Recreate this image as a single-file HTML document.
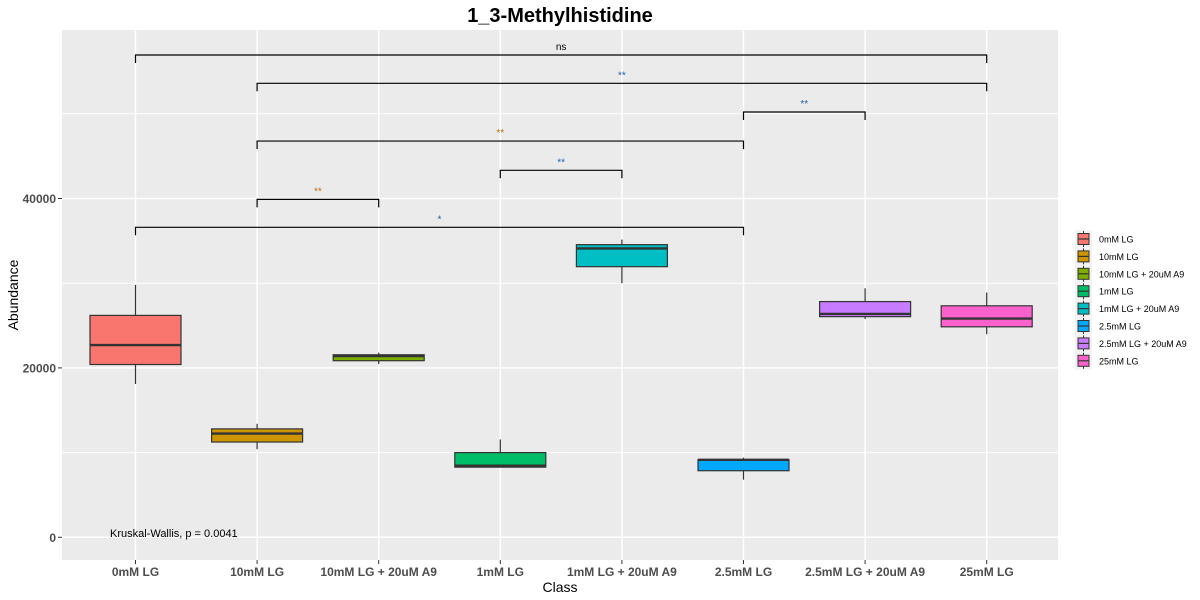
<!DOCTYPE html>
<html><head><meta charset="utf-8"><style>
body{margin:0;background:#fff;}
svg{display:block;font-family:"Liberation Sans",Arial,sans-serif;}
</style></head><body>
<svg id="chart" width="1200" height="600"></svg>
<script>
const categories=["0mM LG","10mM LG","10mM LG + 20uM A9","1mM LG","1mM LG + 20uM A9","2.5mM LG","2.5mM LG + 20uM A9","25mM LG"];
const colors=["#F8766D","#CD9600","#7CAE00","#00BE67","#00BFC4","#00A9FF","#C77CFF","#FF61CC"];
const whiskerLow=[18100,10400,20450,8280,30000,6800,25770,23980];
const q1=[20400,11250,20850,8280,31950,7860,26050,24850];
const median=[22700,12250,21400,8450,34100,9150,26370,25830];
const q3=[26200,12800,21550,10000,34550,9150,27830,27330];
const whiskerHigh=[29800,13400,21800,11550,35150,9400,29400,28900];
const yTicks=[0,20000,40000];
const gridMinor=[10000,30000,50000];
const brFrom=[0,1,6,1,3,1,0];
const brTo=[7,7,5,5,4,2,5];
const brY=[56940,53600,50210,46780,43330,39900,36600];
const brLabel=["ns","**","**","**","**","**","*"];
const brColor=["#000","#1f5fa8","#1f5fa8","#b8700f","#1f5fa8","#b8700f","#1f5fa8"];

const NS="http://www.w3.org/2000/svg";
const svg=document.getElementById('chart');
const L=62,R=1058,T=30,B=560;
const x=i=>135.5+i*121.6;
const y=v=>537.3-v*0.008470;
function mk(tag,attrs,parent){const e=document.createElementNS(NS,tag);for(const k in attrs)e.setAttribute(k,attrs[k]);(parent||svg).appendChild(e);return e;}

const title=mk('text',{x:560,y:22,'text-anchor':'middle','font-size':20,'font-weight':'bold',fill:'#000'});
title.textContent="1_3-Methylhistidine";



const panel=mk('rect',{x:L,y:T,width:R-L,height:B-T,fill:'#EBEBEB'});



gridMinor.forEach(v=>{const g=mk('line',{x1:L,x2:R,y1:y(v),y2:y(v),stroke:'#fff','stroke-width':1});

});
yTicks.forEach(v=>{const g=mk('line',{x1:L,x2:R,y1:y(v),y2:y(v),stroke:'#fff','stroke-width':1.5});


const tk=mk('line',{x1:L-4,x2:L,y1:y(v),y2:y(v),stroke:'#333'});


const t=mk('text',{x:L-6,y:y(v)+4.5,'text-anchor':'end','font-size':12,'font-weight':'bold',fill:'#4D4D4D'});
t.textContent=v;

});
categories.forEach((c,i)=>{const g=mk('line',{x1:x(i),x2:x(i),y1:T,y2:B,stroke:'#fff','stroke-width':1.5});


const tk=mk('line',{x1:x(i),x2:x(i),y1:B,y2:B+4,stroke:'#333'});


const t=mk('text',{x:x(i),y:B+16,'text-anchor':'middle','font-size':12,'font-weight':'bold',fill:'#4D4D4D'});
t.textContent=c;

});

const bw=91;
categories.forEach((c,i)=>{const g=mk('g',{});


mk('line',{x1:x(i),x2:x(i),y1:y(whiskerHigh[i]),y2:y(q3[i]),stroke:'#333','stroke-width':1.2},g);
mk('line',{x1:x(i),x2:x(i),y1:y(q1[i]),y2:y(whiskerLow[i]),stroke:'#333','stroke-width':1.2},g);
mk('rect',{x:x(i)-bw/2,y:y(q3[i]),width:bw,height:Math.max(0.5,y(q1[i])-y(q3[i])),fill:colors[i],stroke:'#333','stroke-width':1.2},g);
mk('line',{x1:x(i)-bw/2,x2:x(i)+bw/2,y1:y(median[i]),y2:y(median[i]),stroke:'#333','stroke-width':2.4},g);});

brFrom.forEach((f,k)=>{const g=mk('g',{});


const yy=y(brY[k]);
mk('path',{d:`M${x(f)} ${yy+8}V${yy}H${x(brTo[k])}V${yy+8}`,fill:'none',stroke:'#000','stroke-width':1.2},g);
const t=mk('text',{x:(x(f)+x(brTo[k]))/2,y:yy-5,'text-anchor':'middle','font-size':10,fill:brColor[k]},g);
t.textContent=brLabel[k];});

const kw=mk('text',{x:110,y:537,'font-size':11,fill:'#000'});
kw.textContent="Kruskal-Wallis, p = 0.0041";



const xt=mk('text',{x:560,y:592,'text-anchor':'middle','font-size':14,fill:'#000'});
xt.textContent="Class";


const yt=mk('text',{x:18,y:295,'text-anchor':'middle','font-size':14,fill:'#000',transform:'rotate(-90 18 295)'});
yt.textContent="Abundance";



categories.forEach((c,i)=>{const g=mk('g',{});


const cy=239+i*17.4;
mk('rect',{x:1075,y:cy-8.7,width:17,height:17.4,fill:'#F2F2F2'},g);
mk('line',{x1:1083.5,x2:1083.5,y1:cy-8,y2:cy+8,stroke:'#333'},g);
mk('rect',{x:1078,y:cy-5.5,width:11,height:11,fill:colors[i],stroke:'#333','stroke-width':1},g);
mk('line',{x1:1078,x2:1089,y1:cy,y2:cy,stroke:'#333','stroke-width':1.2},g);
const t=mk('text',{x:1099,y:cy+3.5,'font-size':9,fill:'#000'},g);
t.textContent=c;});
</script>
</body></html>
